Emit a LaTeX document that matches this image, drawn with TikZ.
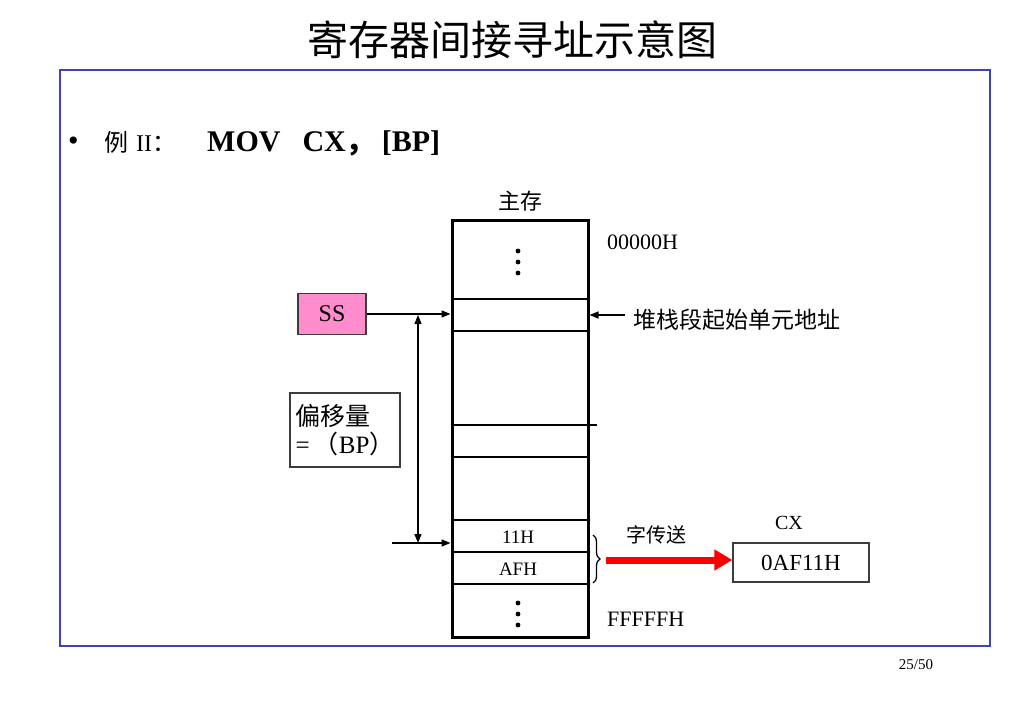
\documentclass[tikz,border=0pt]{standalone}
\usepackage{fontspec}
\setmainfont{Liberation Serif}
\newfontfamily\cjk{Noto Sans CJK SC}
\usetikzlibrary{arrows.meta,decorations.pathreplacing}
\definecolor{framecol}{RGB}{64,64,196}
\definecolor{sspink}{RGB}{255,140,204}
\definecolor{boxgray}{RGB}{60,60,60}
\begin{document}
\begin{tikzpicture}[x=1pt,y=-1pt,
  thinline/.style={line width=1.3pt},
  tip/.style={thinline,-{Triangle[length=9pt,width=7pt]}},
  lbl/.style={inner sep=0pt},
  fs/.style={font=\fontsize{#1}{#1}\selectfont}]
\useasboundingbox (0,0) rectangle (1024,709);
% title
\node[lbl, fs=41] (title) at (512,40) {\cjk 寄存器间接寻址示意图};
% frame
\draw[framecol, line width=2.6pt] (60,70) rectangle (990,646);
% page number
\node[lbl, fs=15] (page) at (916,665) {25/50};
% bullet line
\node[lbl, fs=30, anchor=west] (bullet) at (68,144) {•};
\node[lbl, fs=24, anchor=west] (ex) at (104,142) {{\cjk 例}\hspace{8pt}II{\cjk ：}};
\node[lbl, fs=30, anchor=west] (instr) at (207,143) {\bfseries MOV\hspace{22pt}CX{\cjk ，}\hspace{6pt}[BP]};
% memory column
\node[lbl, fs=22] (mainmem) at (520,201) {\cjk 主存};
\node[draw, line width=3pt, minimum width=136pt, minimum height=417pt, inner sep=0pt] (mem) at (520,428.5) {};
\foreach \yy in {299,331,457,520,552,584}
  \draw[thinline] (mem.west |- 0,\yy) -- (mem.east |- 0,\yy);
\draw[thinline] (mem.west |- 0,425) -- (597,425);
% dots
\foreach \yy in {251,262,273,603,614,625}
  \fill (518,\yy) circle (2.4pt);
% row texts
\node[lbl, fs=19] (v11) at (518,537) {11H};
\node[lbl, fs=19] (vaf) at (518,569) {AFH};
% addresses
\node[lbl, fs=22, anchor=west] (a0) at (607,242) {00000H};
\node[lbl, fs=22, anchor=west] (af) at (607,619) {FFFFFH};
% stack segment start
\coordinate (stk) at (625,315);
\draw[tip] (stk) -- (stk -| mem.east);
\node[lbl, fs=23, anchor=west] (stklbl) at (633,320) {\cjk 堆栈段起始单元地址};
% SS box
\node[draw=boxgray, thinline, fill=sspink, minimum width=68pt, minimum height=41pt, inner sep=0pt, fs=24] (ss) at (332,314) {SS};
\draw[tip] (ss.east) -- (ss.east -| mem.west);
% offset
\coordinate (otop) at (418,315);
\coordinate (obot) at (418,543);
\draw[thinline, {Triangle[length=9pt,width=7pt]}-{Triangle[length=9pt,width=7pt]}] (otop) -- (obot);
\coordinate (ostart) at (392,543);
\draw[tip] (ostart) -- (ostart -| mem.west);
\node[draw=boxgray, thinline, minimum width=110pt, minimum height=74pt, inner sep=0pt, align=left, fs=25] (off) at (345,430)
  {{\cjk 偏移量}\\[3pt]=\,{\cjk （}BP{\cjk ）}};
% brace
\draw[thinline, decorate, decoration={brace, amplitude=7pt}] (593,535) -- (593,583);
% CX
\node[draw=boxgray, thinline, minimum width=136pt, minimum height=39pt, inner sep=0pt, fs=23] (cx) at (801,562.5) {0AF11H};
\node[lbl, fs=20] (cxlbl) at (789,523) {CX};
\node[lbl, fs=20] (wt) at (656,535) {\cjk 字传送};
\coordinate (rstart) at (606,560);
\draw[red, line width=7pt, -{Triangle[length=18pt,width=20pt]}] (rstart) -- (rstart -| cx.west);
\end{tikzpicture}
\end{document}
